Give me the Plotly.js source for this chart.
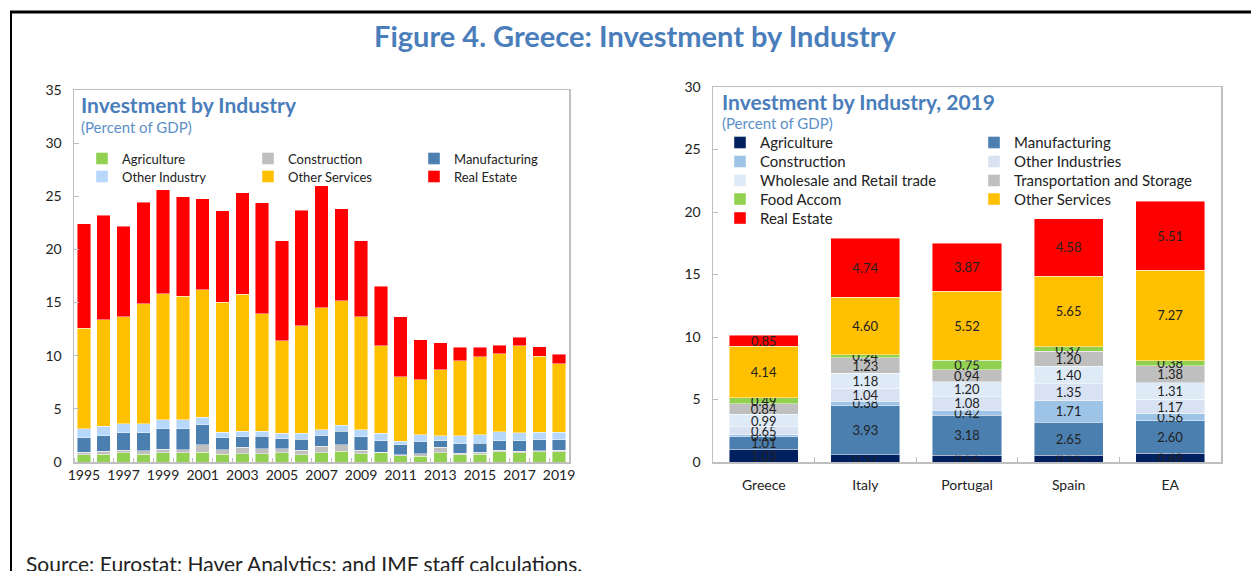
<!DOCTYPE html>
<html>
<head>
<meta charset="utf-8">
<script src="https://cdn.plot.ly/plotly-3.0.1.min.js"></script>
<style>
  html, body { margin: 0; padding: 0; background: #fff; }
  #chart { width: 1251px; height: 571px; }
</style>
</head>
<body>
<div id="chart"></div>
<script>
var W = 1251, H = 571;
function px(x) { return x / W; }
function py(y) { return 1 - y / H; }

// left panel: Greece, 1995-2019
var years = [1995,1996,1997,1998,1999,2000,2001,2002,2003,2004,2005,2006,2007,
             2008,2009,2010,2011,2012,2013,2014,2015,2016,2017,2018,2019];
var grAgri     = [0.70,0.72,0.85,0.75,0.89,0.85,0.94,0.75,0.79,0.79,0.85,0.66,0.89,1.01,0.79,0.89,0.60,0.54,0.85,0.70,0.75,0.98,0.89,0.98,0.98];
var grConstr   = [0.24,0.29,0.25,0.32,0.31,0.31,0.66,0.38,0.60,0.44,0.38,0.44,0.59,0.63,0.31,0.03,0.06,0.25,0.54,0.12,0.17,0.12,0.12,0.09,0.12];
var grManuf    = [1.32,1.48,1.64,1.67,1.91,1.95,1.89,1.13,0.97,1.19,0.94,1.04,1.01,1.26,1.26,1.06,0.94,1.13,0.59,0.88,0.85,0.88,0.97,1.01,1.01];
var grOthInd   = [0.85,0.88,0.84,0.84,0.85,0.85,0.72,0.54,0.54,0.48,0.54,0.57,0.53,0.56,0.66,0.73,0.35,0.63,0.51,0.76,0.78,0.89,0.76,0.72,0.69];
var grOthServ  = [9.47,10.03,10.07,11.30,11.86,11.64,12.02,12.24,12.89,11.03,8.71,10.09,11.48,11.70,10.66,8.21,6.07,5.19,6.19,7.07,7.35,7.32,8.20,7.14,6.45];
var grRealEst  = [9.82,9.80,8.55,9.55,9.81,9.34,8.52,8.58,9.53,10.47,9.38,10.88,11.50,8.68,7.12,5.63,5.63,3.76,2.52,1.29,0.90,0.81,0.80,0.91,0.88];
var yearTicks  = [1995,1997,1999,2001,2003,2005,2007,2009,2011,2013,2015,2017,2019];

// right panel: 2019 by country
var countries = ['Greece','Italy','Portugal','Spain','EA'];
var agri      = [1.03,0.57,0.56,0.55,0.69];
var manuf     = [1.01,3.93,3.18,2.65,2.60];
var constr    = [0.13,0.38,0.42,1.71,0.56];
var othInd    = [0.65,1.04,1.08,1.35,1.17];
var wholesale = [0.99,1.18,1.20,1.40,1.31];
var transport = [0.84,1.23,0.94,1.20,1.38];
var food      = [0.49,0.24,0.75,0.37,0.38];
var othServ   = [4.14,4.60,5.52,5.65,7.27];
var realEst   = [0.85,4.74,3.87,4.58,5.51];

var FONT = 'Lato, "Open Sans", sans-serif';
var edge = {color: 'rgba(255,255,255,0.55)', width: 0.8};

// every legend entry gets its own one-item legend so the grid matches the original
var legendIds = [];
function legendId(i) { return i === 0 ? 'legend' : 'legend' + (i + 1); }

function leftBar(name, vals, color) {
    var id = legendId(legendIds.length);
    legendIds.push({id: id, side: 'left', n: legendIds.filter(function(l) { return l.side === 'left'; }).length});
    return {
        type: 'bar', name: name, x: years, y: vals,
        xaxis: 'x', yaxis: 'y', legend: id,
        marker: {color: color, line: edge},
        hoverinfo: 'name+x+y'
    };
}

function rightBar(name, vals, color) {
    var id = legendId(legendIds.length);
    legendIds.push({id: id, side: 'right', n: legendIds.filter(function(l) { return l.side === 'right'; }).length});
    return {
        type: 'bar', name: name, x: countries, y: vals,
        xaxis: 'x2', yaxis: 'y2', legend: id,
        marker: {color: color, line: edge},
        text: vals.map(function(v) { return v.toFixed(2); }),
        textposition: 'inside',
        insidetextanchor: 'middle',
        textangle: 0,
        constraintext: 'none',
        cliponaxis: false,
        textfont: {family: FONT, size: 13, color: '#222'},
        hoverinfo: 'name+x+y'
    };
}

var data = [
    leftBar('Agriculture', grAgri, '#92d050'),
    leftBar('Construction', grConstr, '#bfbfbf'),
    leftBar('Manufacturing', grManuf, '#4a7fb0'),
    leftBar('Other Industry', grOthInd, '#b7d7fb'),
    leftBar('Other Services', grOthServ, '#ffc000'),
    leftBar('Real Estate', grRealEst, '#ff0000'),

    rightBar('Agriculture', agri, '#002060'),
    rightBar('Manufacturing', manuf, '#4a7fb0'),
    rightBar('Construction', constr, '#9dc3e6'),
    rightBar('Other Industries', othInd, '#d9e2f3'),
    rightBar('Wholesale and Retail trade', wholesale, '#deebf7'),
    rightBar('Transportation and Storage', transport, '#bfbfbf'),
    rightBar('Food Accom', food, '#92d050'),
    rightBar('Other Services', othServ, '#ffc000'),
    rightBar('Real Estate', realEst, '#ff0000')
];

var frameColor = '#bfbfbf';

var layout = {
    width: W, height: H,
    margin: {l: 0, r: 0, t: 0, b: 0},
    paper_bgcolor: '#fff', plot_bgcolor: '#fff',
    font: {family: FONT, size: 14, color: '#222'},
    barmode: 'stack',
    bargap: 0.32,
    showlegend: true,
    uniformtext: {mode: 'show', minsize: 13},

    xaxis: {
        domain: [px(74), px(569)],
        anchor: 'y',
        range: [1994.5, 2019.5],
        tickvals: yearTicks,
        ticks: '',
        showline: true, mirror: true, linecolor: frameColor, linewidth: 1.5,
        showgrid: false, zeroline: false,
        tickfont: {size: 14, color: '#222'},
        minor: {ticks: 'inside', tick0: 1994.5, dtick: 1, ticklen: 4, tickcolor: frameColor, showgrid: false}
    },
    yaxis: {
        domain: [py(462), py(90)],
        anchor: 'x',
        range: [0, 35],
        dtick: 5,
        ticks: 'inside', ticklen: 5, tickcolor: frameColor,
        showline: true, mirror: true, linecolor: frameColor, linewidth: 1.5,
        showgrid: false, zeroline: false,
        tickfont: {size: 14, color: '#222'},
        ticklabelstandoff: 8
    },
    xaxis2: {
        domain: [px(713), px(1221)],
        anchor: 'y2',
        type: 'category',
        range: [-0.5, 4.5],
        ticks: 'inside', tickson: 'boundaries', ticklen: 5, tickcolor: frameColor,
        showline: true, mirror: true, linecolor: frameColor, linewidth: 1.5,
        showgrid: false, zeroline: false,
        tickfont: {size: 14, color: '#222'},
        ticklabelstandoff: 10
    },
    yaxis2: {
        domain: [py(462), py(87)],
        anchor: 'x2',
        range: [0, 30],
        dtick: 5,
        ticks: 'inside', ticklen: 5, tickcolor: frameColor,
        showline: true, mirror: true, linecolor: frameColor, linewidth: 1.5,
        showgrid: false, zeroline: false,
        tickfont: {size: 14, color: '#222'},
        ticklabelstandoff: 8
    },

    shapes: [
        {type: 'line', xref: 'paper', yref: 'paper', x0: px(10), x1: 1, y0: py(12), y1: py(12),
         line: {color: '#000', width: 3}},
        {type: 'line', xref: 'paper', yref: 'paper', x0: px(11), x1: px(11), y0: py(12), y1: 0,
         line: {color: '#000', width: 2}}
    ],

    annotations: [
        {text: 'Figure 4. Greece: Investment by Industry', xref: 'paper', yref: 'paper',
         x: px(636), y: py(35), xanchor: 'center', yanchor: 'middle', showarrow: false,
         font: {size: 29, color: '#4a7ebb', weight: 700}},
        {text: 'Investment by Industry', xref: 'paper', yref: 'paper',
         x: px(79), y: py(104), xanchor: 'left', yanchor: 'middle', showarrow: false,
         font: {size: 21, color: '#4a7ebb', weight: 700}},
        {text: '(Percent of GDP)', xref: 'paper', yref: 'paper',
         x: px(79), y: py(127), xanchor: 'left', yanchor: 'middle', showarrow: false,
         font: {size: 15, color: '#5b8fc7'}},
        {text: 'Investment by Industry, 2019', xref: 'paper', yref: 'paper',
         x: px(720), y: py(101), xanchor: 'left', yanchor: 'middle', showarrow: false,
         font: {size: 21, color: '#4a7ebb', weight: 700}},
        {text: '(Percent of GDP)', xref: 'paper', yref: 'paper',
         x: px(720), y: py(123), xanchor: 'left', yanchor: 'middle', showarrow: false,
         font: {size: 15, color: '#5b8fc7'}},
        {text: 'Source: Eurostat; Haver Analytics; and IMF staff calculations.', xref: 'paper', yref: 'paper',
         x: px(24), y: py(563), xanchor: 'left', yanchor: 'middle', showarrow: false,
         font: {size: 21, color: '#222'}}
    ]
};

// legend grid: text start x per column, row centre y per row
var leftCols = [122, 288, 454], leftRows = [158.5, 176.5];
var rightCols = [760, 1014], rightRows = [142.7, 161.7, 180.7, 199.3, 218.3];
var TEXT_OFFSET = 40;

legendIds.forEach(function(l) {
    var cols = l.side === 'left' ? leftCols : rightCols;
    var rows = l.side === 'left' ? leftRows : rightRows;
    var cx = cols[l.n % cols.length];
    var cy = rows[Math.floor(l.n / cols.length)];
    layout[l.id] = {
        x: px(cx - TEXT_OFFSET), xanchor: 'left',
        y: py(cy), yanchor: 'middle',
        bgcolor: 'rgba(0,0,0,0)',
        borderwidth: 0,
        font: {size: l.side === 'left' ? 13 : 15, color: '#222'}
    };
});

Plotly.newPlot('chart', data, layout, {displayModeBar: false, staticPlot: true});
</script>
</body>
</html>
